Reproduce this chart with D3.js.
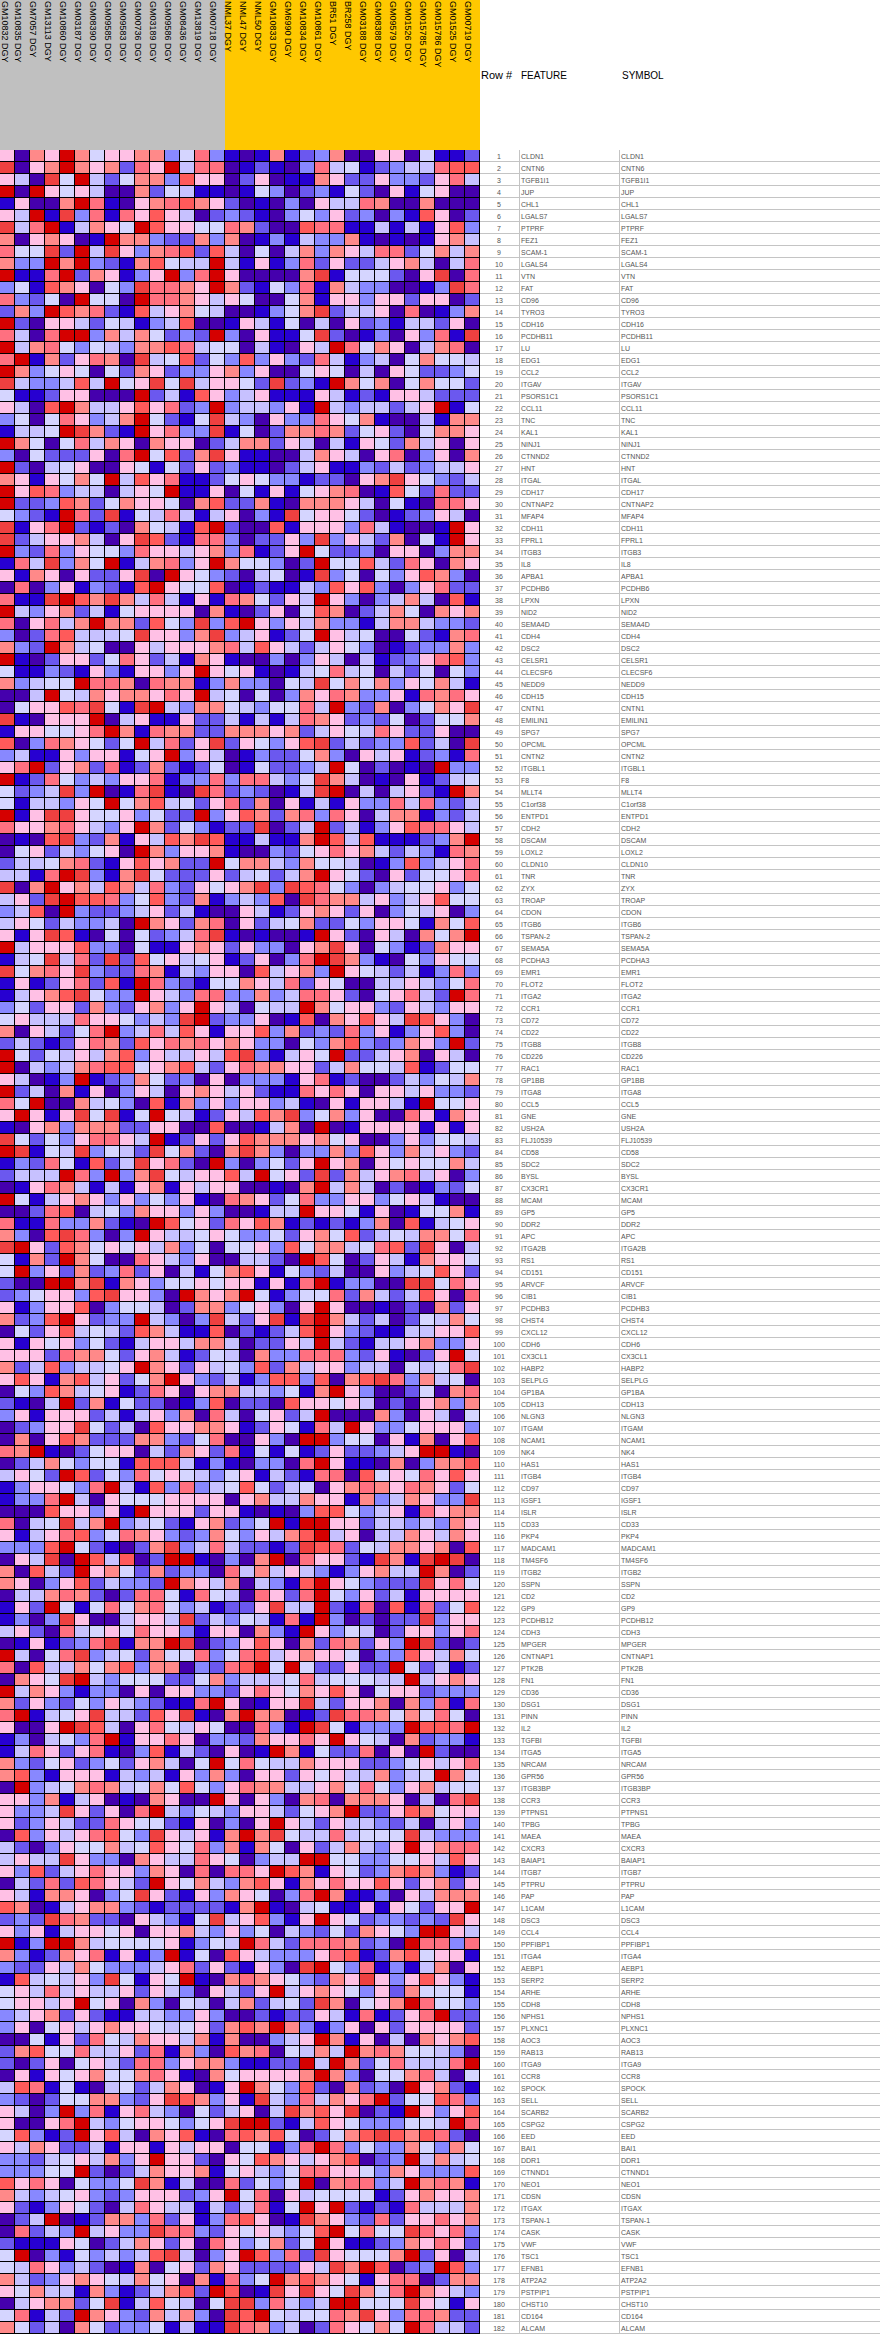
<!DOCTYPE html>
<html><head><meta charset="utf-8">
<style>html,body{margin:0;padding:0;background:#fff}svg{display:block}</style>
<script src="https://cdn.jsdelivr.net/npm/d3@7"></script></head><body>
<svg id="c" width="880" height="2334"></svg>
<script>
const samples = ["GM10832","GM10835","GM7057","GM13113","GM10860","GM03187","GM08390","GM09585","GM09583","GM00736","GM03189","GM09586","GM08436","GM13819","GM00718","NML37","NML47","NML50","GM10833","GM6990","GM10834","GM10861","BR51","BR258","GM03188","GM08388","GM09579","GM01526","GM015785","GM015786","GM01525","GM00719"];
const groupSizes = [15,17];
const groupColors = ["#C0C0C0","#FFC800"];
const genes = ["CLDN1","CNTN6","TGFB1I1","JUP","CHL1","LGALS7","PTPRF","FEZ1","SCAM-1","LGALS4","VTN","FAT","CD96","TYRO3","CDH16","PCDHB11","LU","EDG1","CCL2","ITGAV","PSORS1C1","CCL11","TNC","KAL1","NINJ1","CTNND2","HNT","ITGAL","CDH17","CNTNAP2","MFAP4","CDH11","FPRL1","ITGB3","IL8","APBA1","PCDHB6","LPXN","NID2","SEMA4D","CDH4","DSC2","CELSR1","CLECSF6","NEDD9","CDH15","CNTN1","EMILIN1","SPG7","OPCML","CNTN2","ITGBL1","F8","MLLT4","C1orf38","ENTPD1","CDH2","DSCAM","LOXL2","CLDN10","TNR","ZYX","TROAP","CDON","ITGB6","TSPAN-2","SEMA5A","PCDHA3","EMR1","FLOT2","ITGA2","CCR1","CD72","CD22","ITGB8","CD226","RAC1","GP1BB","ITGA8","CCL5","GNE","USH2A","FLJ10539","CD58","SDC2","BYSL","CX3CR1","MCAM","GP5","DDR2","APC","ITGA2B","RS1","CD151","ARVCF","CIB1","PCDHB3","CHST4","CXCL12","CDH6","CX3CL1","HABP2","SELPLG","GP1BA","CDH13","NLGN3","ITGAM","NCAM1","NK4","HAS1","ITGB4","CD97","IGSF1","ISLR","CD33","PKP4","MADCAM1","TM4SF6","ITGB2","SSPN","CD2","GP9","PCDHB12","CDH3","MPGER","CNTNAP1","PTK2B","FN1","CD36","DSG1","PINN","IL2","TGFBI","ITGA5","NRCAM","GPR56","ITGB3BP","CCR3","PTPNS1","TPBG","MAEA","CXCR3","BAIAP1","ITGB7","PTPRU","PAP","L1CAM","DSC3","CCL4","PPFIBP1","ITGA4","AEBP1","SERP2","ARHE","CDH8","NPHS1","PLXNC1","AOC3","RAB13","ITGA9","CCR8","SPOCK","SELL","SCARB2","CSPG2","EED","BAI1","DDR1","CTNND1","NEO1","CDSN","ITGAX","TSPAN-1","CASK","VWF","TSC1","EFNB1","ATP2A2","PSTPIP1","CHST10","CD164","ALCAM"];
const levels = "abcdefghijkl".split("");
const palette = ["#4500AD","#2700D1","#6B58EF","#8888FF","#C7C1FF","#D5D5FF","#FFC0E5","#FF8989","#FF7080","#FF5A5A","#EF4040","#D50000"];
const rows = [
"gahglhfgghhdfidbabhbcdhaaggafbbc",
"kaghlhghcigleiiabcbadiefbcdeeijj",
"geakflecfhhdjggacgabbhgccgddcgie",
"lalgfgeaahcfebbabfdacdbfcagbfgaa",
"bgaahlibaghijhgcabadageeihaahaaa",
"gelbkdibigjgeacdcbadfdgcdadbjgac",
"keilbehgfljggffihcaajiibbebebgjd",
"haghgablhhdcchdhabdbeddhbababghe",
"iffkclekgdhijcjeafaehdhgeiicfheh",
"hddlhldcbhjfeelebgbdicgccegheaei",
"lbbilchgbdgldilgaaaahkbfffcagkai",
"dfbjhgafdkiihglhcbfdibheddaabdki",
"idcfalffaliihgegfaafhbggdggcggac",
"chdljhicbjeghfeaabdfhkceegaiabdh",
"lcaggecfebdejaabgebfaeagcdbeecga",
"ieailldhehfcdcldagbbfkcabdagdibk",
"lehifdfedhhjieffaebagelifhgaehia",
"ilbhcgihakefjcfdjdgdciebdeafhffe",
"lhdfgfafchgcddghdgaafgfaeagfccdf",
"keddejelfgkfkeggfckcdblhfhafhffc",
"fbbcggaaalcebjgdegbbbgebcbggeccc",
"geajlheegjgicdldeedgbledeeceglbf",
"dfafigdehlfcbfkedagddigfhbaaebhh",
"beeflkhcblgiddkbfachhihcfgcafhhg",
"lhfafiehgahggacehhcgeaebgfchegag",
"dafcccgailfjchkgbbaaehgeagiadgah",
"lcaefgaagfbfcgcdbbacegbbdcecdeeg",
"hgbgfhflejgibbcfgfddbccaghkgfdce",
"lgjideeaegflbbgafbgbfghiabjfcicc",
"lccdjhcfhggfahjcchbahhhgeafbaiig",
"fdcblickbfeiebegadbkfggfcabcdgea",
"kbgilcbcahfebjlcaajbgggdiebaablg",
"kceggheagkjcbiidaccgdkdgechafblg",
"ldcidgffdiggeghdibcglfccdaggadhh",
"biekdhflbehidglhffdaclffjecigahg",
"gbhgagccgkalgfdcaefabkdfafdgjhda",
"aiadgbdcbjlgffjabcbbedjgjdadgicc",
"ibbkljhkheiebgbihfcgelgdadeheajb",
"ledghcebfggggahbacgafjhacehfahgh",
"iagiehlhhcjfdkdjlgdgehddbehheddc",
"dacijeeefkggdhkdegbcflgefaafcbhi",
"hdclhefaageggghiejgecegfdabcddhd",
"lbacggcfigcebhgbaadadgeaebcdgijd",
"fbbdcbgdbggdglgfgbabefiefaecfafd",
"hdeffliihaihhbdhddafekfhfhdgfheb",
"aaelfehghhgiglefafadhgihddgbihig",
"afggjikfbkledhhfedffieldchadfhgk",
"kbagggLaegbbgccebebeihgcdcfacffh".toLowerCase(),
"bggffgilhbihhcchhhghcegfeigccgaa",
"jadihgfcfleicgkcgfdgjkcecddjceak",
"debbgdggbfgldgeabdccfhdagegbcdbi",
"gilcghcibchcbcfabfccdelfacabaldd",
"lbcifdedggibddidiiedfkheabagbcef",
"fcdekdlabikbakicdcabeklaeaegcblh",
"fbeedgflfhjefcgichagbebgddieidce",
"lbgkkgffgdfccldgjhchidigaehhbdce",
"igghigedglhcfdbcckacelcebdgjiige",
"abajkdchbgejhkjbbebbhljejbbbcdhl",
"afgcedfgalhdgghbaadcfgighecedbih",
"ceefhicbgjghcclfhhedhffeabdjdegi",
"eebilkdbhkfcccgcefcehlgfcagcffgi",
"kahlghejheidcgfghkdkjifdadeffgdf",
"egckljjidfjdchbdedjakihhegdegjff",
"dejaldccdegcebaagebcghgcgadfegad",
"egfceddealhgchiagcefhccfdggfbhfj",
"gbgkjbafafcdeikbabaablgcageahfhl",
"legggjddafbbghgcgddaghkgafdbchgg",
"befkeickcjfgefgbcgadilkhdbafdgff",
"kfhigkdccihbedggajeghdlgfecebdid",
"bgbcgicjblidcbffhgeicgfaaeegedfi",
"beghjkfddlgediiddhdeiigcafgiecli",
"dfcggchdcghdglgeafeelhfggdcgedgg",
"fgeeeiggfdedklcddgabjahgjgekjgda",
"hagecfildeiejgbggjdhcdcidgbdgjda",
"cecbcgihcjgihighgddafdhjdcdhgdlc",
"lfcfegehjdgeegejkdbegflcceghagea",
"laedehijjfghjecgihhggcehffejbcff",
"geabdlbcdhfcdagadddbgibcaacedfeh",
"lceahbgadgeaghgegcbbigigaggegddc",
"iflaahefdajbhdgdggdebagbggeblffg",
"glgbgkfkbflfebcgejhkdfhdgaaigbhg",
"baghdhhhccggaajaabehalabggggbgbg",
"kfcfdgiigelbcgcgjhhhghfgaadgdffe",
"lkbfekdfeckfhcahkhdaddhdjgdhegdc",
"bdcifbjcekgicaldadfcglghagfgffhe",
"ceeelidldhkfeggjelfgckcheghiegad",
"abgihebebghbgeggaabahleheacabdcf",
"lfbeghgdgdfdgbaihgcfiddggdfgebaa",
"aacijaefdhggdgdaabeelggfbgabffhb",
"ibbiddhcbaljfgcigjhbcbcbdhajbefg",
"hdajkidadlgeefgfddfcghfjcefehhfi",
"klgcjhfgfgehdfaffgdjfhhefijckgae",
"fbhclhfaaigedgaaeecaljfacgebhggf",
"fldgchcdicgaebfhjgbfdceaagdefjgc",
"caallhkbhgdffgfggbgbilbddaakkfig",
"cdfggdjkggdalhghlfbdffichecejgai",
"gbdggjadffeachhdfgdaglgaabacahcg",
"hcdjlgcddledadkecgkbklheceacfehf",
"afcgjefecjhebbjacbcejlgdcbbeeggj",
"gbgfgdfcbeggehheaccgelecbeeghddg",
"gggcihhfcghebcfeahddiiidcgbacglf",
"hcejdeefglhgcgefdjcheggdeeafefik",
"gjgbhjegcfhlgdcebdjjdjahjkidhefa",
"afdjhefgbcigaghheedfbhlgdaacfahi",
"cbaelchbfccabdjaccajggfgeacaghdh",
"dgbgggcebegdhaieafgcelaaahdageaf",
"acdggkfceajgghhgbcgfbielgddfgggd",
"ahagjhccchhdcfiaagdalldffagbhagj",
"ihlbacfggaechgcibfbfbcgccdegllba",
"acehfdffbjjjebdbaddailgbbahadhhj",
"egfcljcfdifgfedfgbecbiiajfgfigjg",
"bdggfdilebjdidefjfcefaghihgihgcf",
"bddileagfffggggagheehggbhdehgddk",
"aaajggdgblgggcggbabadjjfdegbighh",
"iaefkehldefcbghcdflbllggceededhg",
"gbegijdfihgdcdhfdgehjlegaeehgehg",
"dddjlfcbachkdeieccbckjicfehhghaj",
"agekaljejacllbadahlaiggcbkhbklka",
"hajeclghfchcddaiehegedbdgheelhac",
"hgadgjceddclhgehaedbjlgfdccckgif",
"aeehihcaciifbifeaigcilfdgcebgggg",
"bgclfbfifhifdebccgkeelcbiajbicfj",
"bdadkgaaeggekcedfebibldacacckdgg",
"egcaiefgfiggdbggahdblgdfeacggdgi",
"abgbcdikbhhlkacdgjgahcihcgdlkcac",
"leafikdefchffidfijeghggfaddjgehf",
"iajeehfhjdhhadcijlflfccgcclfcebc",
"ahgfkledfffccfhdeeefiefffeeleghg",
"lehgdbddagaggddcgigfhgjgafggcddd",
"hcgdcfdgedcbbilgabggkecgghahdibi",
"ilbefgkeecjgkbahlhhabckiihfhfifa",
"gaaglkjeagifegfaaidblkfbdddljjil",
"bdaefdilbggigaddchggiglgfeahcddb",
"beigcgibadjbecagablhbfcciagalcaa",
"hdcfgcdfcgheaflfifeehgggccdfgegi",
"hjdbgggbedebgdhdaggcgfgeehdeflhf",
"aldefhihefhfjfdgihheeghfifdgheff",
"ggdhbegabahgaalgagdahiahhhgaeaik",
"gddekgcgailedfedggecfghlccgjhfgg",
"gcdgeccigffcbgadaglgecgeedceaegd",
"ajdgegijfdkgegbhlhkfeeiefffkeddd",
"ecadgffhefjgfidhbhfagcehedglghii",
"egeekgddahgeeigfadeellffddffgejg",
"gdjcegiggdhgaiaiigljhbgfcdhjhdbc",
"aecicjigeclgfhedhjgbhgiggjgcghcg",
"gebhhgadfkgcbgdhgfadilhbbdagehhh",
"jhabeghhdcbccccbhlbaefbbgbgfcggl",
"cdckihccagedbfkegjdbglgfcddcdckg",
"gdgbeggfgagghedgdfaedcfchgfdllge",
"lbdllheffffgbdfelieciiihcdaliidi",
"hdbchgibgbdlbfajgedddgijbchjfggb",
"dccgehfdddegicgcbgdaklfdibdbehag",
"bjefegdkfbgflbahihgfdchgkgdgjgdb",
"fgeiegeegcgedagecgleghgfdgchfffb",
"fggeglfgahdafeaehcefckhafghliffd",
"deghcgcbbeeddgdaacbccgebibcgilcc",
"dgafgeghggfefgchjhlhdbdgagcggggc",
"aafbgcifehggehbhaadeglhbgaeahghj",
"chjffieegcibhdajhiafehelhihffeda",
"cacgafgeciidghhdbbcclelhcfieeeil",
"agbgfghffhigbahfgggghlhdaffhieaf",
"ejibfbaefcehgabglhfdjcahcdalghcb",
"dcacffhhdcgkjhdgbkediehgilcffjid",
"geadldibgiedafcegaekhjgkacblgdgj",
"gaagiledfggfdfgkllcbejgfdddffeli",
"fjdbclgjeahgjbaijhjfacfhjkjhjica",
"gehgccebggbgeggaffbdilidfddhfdhf",
"ddcefgehdglggcagfjhgeghjacdlehef",
"dddfflcacehgghbfgedfiiggfdhgdddj",
"jgigafddfkhbeaaicfdflahiidelhihb",
"hedefgdcdgggcdglfiageffffbcghggh",
"gcbdgfcaeigeebeceibflglcbcbieeeh",
"acelabchhdicgbdijgabkhgdcicggigh",
"aicedlegddkiidcgfgedfjlfiffkigid",
"cbbbgfacehgcgaigdfhcflgbbcdhgigc",
"fladbfdedejkeadgljdickgfffhlcgae",
"feigdecabhafgchgccccgekhljacdljd",
"hecdghgfehfgahbidflhjhgfbgiiachh",
"gfheebhdbcehjcljabkgkgfkhfilhged",
"aeghhcfkbejfeafkkdiedellfffkgfbg",
"fibeclhgdchehdakjlfeffihkgdiihcc",
"hfceahfcddfbebbkihdeacigfhflieec"
];
const headers = ["Row #","FEATURE","SYMBOL"];

const svg = d3.select("#c");
const x = d3.scaleBand().domain(d3.range(samples.length)).range([0,480]);
const y = d3.scaleBand().domain(d3.range(genes.length)).range([150,2334]);
const fill = d3.scaleOrdinal(levels,palette);

// header bands
let start = 0;
groupSizes.forEach((n,i)=>{
  svg.append("rect").attr("x",x(start)).attr("y",0)
    .attr("width",n*x.bandwidth()).attr("height",150).attr("fill",groupColors[i]);
  start += n;
});
svg.append("g").selectAll("text").data(samples).join("text")
  .attr("transform",(d,i)=>`translate(${Math.max(x(i),2)},1) rotate(90)`)
  .attr("font-family","Liberation Sans").attr("font-size",9).attr("fill","#000")
  .text(d=>d+" DGY");

// matrix
svg.append("rect").attr("x",0).attr("y",150).attr("width",480).attr("height",2184).attr("fill","#000");
rows.forEach((r,j)=>{
  const cells = r.slice(0,samples.length).split("");
  svg.append("g").attr("transform",`translate(0,${y(j)})`).selectAll("rect").data(cells).join("rect")
    .attr("x",(d,i)=>x(i)).attr("width",x.bandwidth()-1).attr("height",y.bandwidth()-1)
    .attr("fill",d=>fill(d));
});

// table
const tbl = svg.append("g").attr("font-family","Liberation Sans").attr("font-size",7).attr("fill","#555");
tbl.selectAll("line.h").data(genes).join("line").attr("class","h")
  .attr("x1",480).attr("x2",880).attr("y1",(d,i)=>y(i)+11.5).attr("y2",(d,i)=>y(i)+11.5)
  .attr("stroke","#c4c4c4");
[519.5,619.5].forEach(v=>svg.append("line").attr("x1",v).attr("x2",v).attr("y1",150).attr("y2",2334).attr("stroke","#c4c4c4"));
tbl.selectAll("text.n").data(genes).join("text").attr("class","n")
  .attr("x",499).attr("text-anchor","middle").attr("y",(d,i)=>y(i)+8.5).text((d,i)=>i+1);
tbl.selectAll("text.f").data(genes).join("text").attr("class","f")
  .attr("x",521).attr("y",(d,i)=>y(i)+8.5).text(d=>d);
tbl.selectAll("text.s").data(genes).join("text").attr("class","s")
  .attr("x",621).attr("y",(d,i)=>y(i)+8.5).text(d=>d);
svg.append("g").attr("font-family","Liberation Sans").attr("fill","#000")
  .selectAll("text").data(headers).join("text")
  .attr("font-size",(d,i)=>[11,10,10][i])
  .attr("x",(d,i)=>[481,521,622][i]).attr("y",79).text(d=>d);
</script></body></html>
